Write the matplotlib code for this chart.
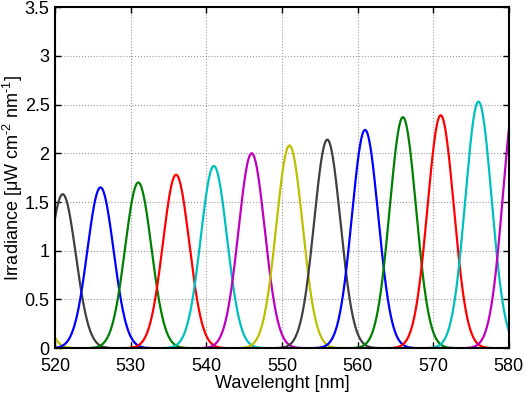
import numpy as np
import matplotlib
matplotlib.use('Agg')
import matplotlib.pyplot as plt

# peak wavelength (nm), peak irradiance and colour of each channel
centers = [511, 516, 521, 526, 531, 536, 541, 546, 551, 556, 561, 566, 571, 576, 581, 586, 591]
heights = [1.45, 1.52, 1.58, 1.65, 1.70, 1.78, 1.87, 2.00, 2.08, 2.14, 2.24, 2.37, 2.39, 2.53, 2.63, 2.70, 2.75]
colors = ['m', 'y', 'k', 'b', 'g', 'r', 'c', 'm', 'y', 'k', 'b', 'g', 'r', 'c', 'm', 'y', 'k']
fwhm = 4.1  # nm

xticks = [520, 530, 540, 550, 560, 570, 580]
yticks = [0, 0.5, 1, 1.5, 2, 2.5, 3, 3.5]
ytick_labels = ['0', '0.5', '1', '1.5', '2', '2.5', '3', '3.5']

matlab_colors = {
    'b': (0, 0, 1), 'g': (0, 0.5, 0), 'r': (1, 0, 0), 'c': (0, 0.75, 0.75),
    'm': (0.75, 0, 0.75), 'y': (0.75, 0.75, 0), 'k': (0.25, 0.25, 0.25),
}

plt.rcParams['font.family'] = ['Liberation Sans', 'DejaVu Sans']
plt.rcParams['mathtext.fontset'] = 'custom'
plt.rcParams['mathtext.rm'] = 'Liberation Sans'
plt.rcParams['mathtext.it'] = 'Liberation Sans'
plt.rcParams['font.size'] = 13

fig = plt.figure(figsize=(5.25, 3.93), dpi=100)
ax = fig.add_axes([0.105, 0.114, 0.864, 0.868])

wl = np.linspace(505, 600, 2000)
sigma = fwhm / 2.3548
for c, h, col in zip(centers, heights, colors):
    ax.plot(wl, h * np.exp(-(wl - c) ** 2 / (2 * sigma ** 2)),
            color=matlab_colors[col], lw=1.6, solid_joinstyle='round')

ax.set_xlim(520, 580)
ax.set_ylim(0, 3.5)
ax.set_xticks(xticks)
ax.set_yticks(yticks)
ax.set_yticklabels(ytick_labels)
ax.grid(True, color='#999999', linestyle=':', linewidth=0.8)
ax.tick_params(direction='in', length=4, width=1, top=True, right=True,
               labelsize=13)
ax.tick_params(axis='x', pad=7)
ax.tick_params(axis='y', pad=4)
for s in ax.spines.values():
    s.set_linewidth(1.5)

ax.set_xlabel('Wavelenght [nm]', labelpad=0)
ax.set_ylabel(r'Irradiance [μW cm$^{\text{-2}}$ nm$^{\text{-1}}$]', labelpad=0)

fig.savefig('out.png', dpi=100)
